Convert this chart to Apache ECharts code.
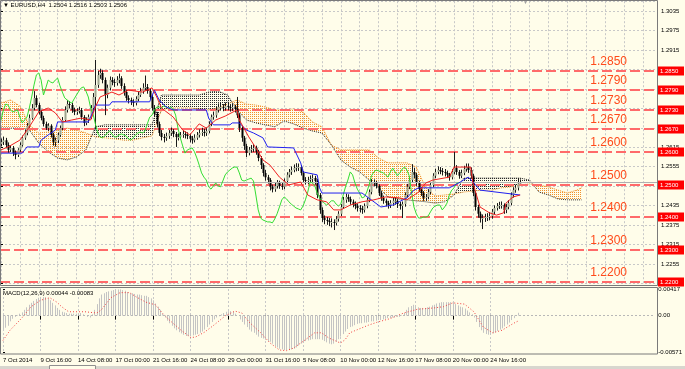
<!DOCTYPE html>
<html><head><meta charset="utf-8">
<script src="https://cdn.jsdelivr.net/npm/echarts@6/dist/echarts.min.js"></script>
<style>html,body{margin:0;padding:0;background:#FFFDEA;}#c{width:685px;height:369px;}</style>
</head><body><div id="c"></div>
<script>
// ---------- DATA ----------
const labelBars = [0,16,32,48,64,80,96,112,128,144,160,176,192,208];
const timeLabels = ['7 Oct 2014','9 Oct 16:00','14 Oct 08:00','17 Oct 00:00','21 Oct 16:00','24 Oct 08:00','29 Oct 00:00','31 Oct 16:00','5 Nov 08:00','10 Nov 00:00','12 Nov 16:00','17 Nov 08:00','20 Nov 00:00','24 Nov 16:00'];

const opens = [1.2625,1.2631,1.2637,1.2622,1.2607,1.2613,1.2597,1.2591,1.2607,1.2622,
1.2644,1.2659,1.2681,1.2705,1.2736,1.2767,1.2745,1.2724,1.2705,1.2687,
1.2674,1.2681,1.2653,1.2631,1.2637,1.2653,1.2674,1.2699,1.2730,1.2748,
1.2745,1.2730,1.2724,1.2727,1.2730,1.2708,1.2690,1.2699,1.2708,1.2736,
1.2770,1.2807,1.2838,1.2844,1.2822,1.2776,1.2798,1.2822,1.2816,1.2813,
1.2822,1.2828,1.2804,1.2785,1.2767,1.2761,1.2755,1.2751,1.2764,1.2776,
1.2788,1.2798,1.2801,1.2788,1.2770,1.2736,1.2718,1.2687,1.2659,1.2647,
1.2644,1.2650,1.2659,1.2665,1.2656,1.2647,1.2647,1.2653,1.2656,1.2653,
1.2650,1.2641,1.2637,1.2644,1.2653,1.2659,1.2662,1.2659,1.2665,1.2687,
1.2708,1.2714,1.2730,1.2739,1.2739,1.2736,1.2742,1.2739,1.2736,1.2739,
1.2733,1.2714,1.2674,1.2644,1.2619,1.2597,1.2607,1.2610,1.2613,1.2601,
1.2582,1.2560,1.2536,1.2523,1.2514,1.2493,1.2486,1.2496,1.2505,1.2496,
1.2493,1.2511,1.2530,1.2539,1.2545,1.2551,1.2554,1.2554,1.2536,1.2514,
1.2511,1.2514,1.2517,1.2520,1.2511,1.2468,1.2422,1.2397,1.2391,1.2388,
1.2385,1.2385,1.2382,1.2394,1.2410,1.2431,1.2453,1.2462,1.2456,1.2447,
1.2440,1.2434,1.2428,1.2425,1.2422,1.2434,1.2453,1.2477,1.2508,1.2505,
1.2496,1.2474,1.2459,1.2450,1.2443,1.2437,1.2443,1.2450,1.2450,1.2440,
1.2434,1.2440,1.2468,1.2493,1.2514,1.2539,1.2530,1.2505,1.2486,1.2474,
1.2459,1.2462,1.2477,1.2499,1.2527,1.2539,1.2545,1.2542,1.2539,1.2536,
1.2530,1.2523,1.2539,1.2551,1.2539,1.2527,1.2536,1.2548,1.2554,1.2545,
1.2527,1.2474,1.2431,1.2410,1.2397,1.2397,1.2400,1.2400,1.2403,1.2416,
1.2428,1.2434,1.2437,1.2437,1.2422,1.2431,1.2443,1.2468,1.2483,1.2490,
1.2504];
const highs = [1.2642,1.2648,1.2644,1.2630,1.2621,1.2619,1.2605,1.2612,1.2630,1.2651,
1.2668,1.2690,1.2716,1.2748,1.2788,1.2775,1.2752,1.2731,1.2712,1.2694,
1.2689,1.2686,1.2660,1.2645,1.2660,1.2682,1.2708,1.2741,1.2760,1.2757,
1.2752,1.2737,1.2735,1.2740,1.2736,1.2714,1.2707,1.2716,1.2745,1.2782,
1.2884,1.2850,1.2857,1.2852,1.2830,1.2808,1.2833,1.2831,1.2826,1.2834,
1.2842,1.2834,1.2812,1.2792,1.2775,1.2768,1.2763,1.2772,1.2785,1.2798,
1.2812,1.2836,1.2810,1.2795,1.2776,1.2745,1.2724,1.2694,1.2668,1.2656,
1.2660,1.2668,1.2676,1.2671,1.2662,1.2658,1.2662,1.2667,1.2664,1.2661,
1.2657,1.2650,1.2655,1.2662,1.2670,1.2675,1.2672,1.2676,1.2695,1.2716,
1.2725,1.2740,1.2750,1.2752,1.2748,1.2753,1.2755,1.2748,1.2750,1.2746,
1.2770,1.2720,1.2680,1.2650,1.2626,1.2616,1.2622,1.2625,1.2620,1.2607,
1.2588,1.2566,1.2545,1.2530,1.2520,1.2500,1.2506,1.2514,1.2512,1.2505,
1.2519,1.2538,1.2548,1.2556,1.2562,1.2566,1.2565,1.2560,1.2542,1.2523,
1.2524,1.2528,1.2531,1.2527,1.2517,1.2474,1.2430,1.2405,1.2400,1.2397,
1.2396,1.2393,1.2403,1.2418,1.2440,1.2462,1.2472,1.2470,1.2463,1.2454,
1.2448,1.2442,1.2437,1.2434,1.2442,1.2460,1.2485,1.2517,1.2516,1.2511,
1.2501,1.2480,1.2466,1.2457,1.2450,1.2452,1.2460,1.2461,1.2456,1.2447,
1.2448,1.2476,1.2502,1.2524,1.2563,1.2552,1.2536,1.2512,1.2492,1.2480,
1.2471,1.2486,1.2508,1.2535,1.2549,1.2556,1.2554,1.2551,1.2548,1.2543,
1.2536,1.2548,1.2601,1.2560,1.2545,1.2546,1.2558,1.2565,1.2565,1.2553,
1.2533,1.2480,1.2438,1.2417,1.2408,1.2410,1.2412,1.2415,1.2425,1.2436,
1.2443,1.2447,1.2448,1.2442,1.2440,1.2452,1.2476,1.2492,1.2500,1.2520,
1.2516];
const lows = [1.2618,1.2622,1.2612,1.2598,1.2600,1.2588,1.2578,1.2585,1.2601,1.2617,
1.2638,1.2652,1.2675,1.2700,1.2729,1.2738,1.2716,1.2698,1.2679,1.2668,
1.2665,1.2645,1.2620,1.2617,1.2628,1.2647,1.2668,1.2693,1.2722,1.2735,
1.2721,1.2714,1.2715,1.2719,1.2700,1.2680,1.2683,1.2690,1.2702,1.2725,
1.2670,1.2798,1.2826,1.2812,1.2714,1.2766,1.2790,1.2806,1.2801,1.2805,
1.2812,1.2795,1.2774,1.2758,1.2750,1.2745,1.2740,1.2744,1.2757,1.2770,
1.2780,1.2790,1.2780,1.2762,1.2728,1.2708,1.2676,1.2650,1.2636,1.2630,
1.2635,1.2641,1.2650,1.2646,1.2616,1.2636,1.2640,1.2644,1.2642,1.2640,
1.2630,1.2626,1.2630,1.2638,1.2645,1.2650,1.2648,1.2650,1.2658,1.2680,
1.2700,1.2706,1.2722,1.2728,1.2726,1.2728,1.2729,1.2725,1.2727,1.2722,
1.2705,1.2662,1.2632,1.2607,1.2585,1.2590,1.2598,1.2600,1.2592,1.2572,
1.2548,1.2525,1.2512,1.2503,1.2482,1.2476,1.2478,1.2488,1.2487,1.2484,
1.2486,1.2503,1.2522,1.2530,1.2538,1.2541,1.2542,1.2528,1.2505,1.2500,
1.2502,1.2505,1.2508,1.2500,1.2458,1.2410,1.2385,1.2378,1.2376,1.2372,
1.2368,1.2360,1.2374,1.2386,1.2403,1.2425,1.2444,1.2447,1.2438,1.2430,
1.2424,1.2417,1.2414,1.2410,1.2414,1.2427,1.2446,1.2470,1.2495,1.2488,
1.2465,1.2450,1.2441,1.2433,1.2426,1.2428,1.2435,1.2438,1.2428,1.2423,
1.2397,1.2432,1.2460,1.2486,1.2507,1.2520,1.2496,1.2477,1.2465,1.2450,
1.2450,1.2455,1.2470,1.2492,1.2520,1.2532,1.2532,1.2528,1.2525,1.2520,
1.2512,1.2516,1.2532,1.2530,1.2518,1.2520,1.2529,1.2540,1.2536,1.2518,
1.2464,1.2420,1.2398,1.2383,1.2363,1.2385,1.2388,1.2390,1.2395,1.2408,
1.2420,1.2425,1.2426,1.2410,1.2412,1.2424,1.2436,1.2460,1.2475,1.2482,
1.2503];
const closes = [1.2631,1.2637,1.2622,1.2607,1.2613,1.2597,1.2591,1.2607,1.2622,1.2644,
1.2659,1.2681,1.2705,1.2736,1.2767,1.2745,1.2724,1.2705,1.2687,1.2674,
1.2681,1.2653,1.2631,1.2637,1.2653,1.2674,1.2699,1.2730,1.2748,1.2745,
1.2730,1.2724,1.2727,1.2730,1.2708,1.2690,1.2699,1.2708,1.2736,1.2770,
1.2807,1.2838,1.2844,1.2822,1.2776,1.2798,1.2822,1.2816,1.2813,1.2822,
1.2828,1.2804,1.2785,1.2767,1.2761,1.2755,1.2751,1.2764,1.2776,1.2788,
1.2798,1.2801,1.2788,1.2770,1.2736,1.2718,1.2687,1.2659,1.2647,1.2644,
1.2650,1.2659,1.2665,1.2656,1.2647,1.2647,1.2653,1.2656,1.2653,1.2650,
1.2641,1.2637,1.2644,1.2653,1.2659,1.2662,1.2659,1.2665,1.2687,1.2708,
1.2714,1.2730,1.2739,1.2739,1.2736,1.2742,1.2739,1.2736,1.2739,1.2733,
1.2714,1.2674,1.2644,1.2619,1.2597,1.2607,1.2610,1.2613,1.2601,1.2582,
1.2560,1.2536,1.2523,1.2514,1.2493,1.2486,1.2496,1.2505,1.2496,1.2493,
1.2511,1.2530,1.2539,1.2545,1.2551,1.2554,1.2554,1.2536,1.2514,1.2511,
1.2514,1.2517,1.2520,1.2511,1.2468,1.2422,1.2397,1.2391,1.2388,1.2385,
1.2385,1.2382,1.2394,1.2410,1.2431,1.2453,1.2462,1.2456,1.2447,1.2440,
1.2434,1.2428,1.2425,1.2422,1.2434,1.2453,1.2477,1.2508,1.2505,1.2496,
1.2474,1.2459,1.2450,1.2443,1.2437,1.2443,1.2450,1.2450,1.2440,1.2434,
1.2440,1.2468,1.2493,1.2514,1.2539,1.2530,1.2505,1.2486,1.2474,1.2459,
1.2462,1.2477,1.2499,1.2527,1.2539,1.2545,1.2542,1.2539,1.2536,1.2530,
1.2523,1.2539,1.2551,1.2539,1.2527,1.2536,1.2548,1.2554,1.2545,1.2527,
1.2474,1.2431,1.2410,1.2397,1.2397,1.2400,1.2400,1.2403,1.2416,1.2428,
1.2434,1.2437,1.2437,1.2422,1.2431,1.2443,1.2468,1.2483,1.2490,1.2504,
1.2506];

const tenkan = [[0,1.2607],[3,1.2616],[8,1.2637],[12,1.2678],[16,1.2724],[20,1.2736],[23,1.2721],[26,1.2693],[30,1.2699],[34,1.2705],[38,1.2699],[40,1.2739],[42,1.2770],[47,1.2785],[50,1.2776],[54,1.2791],[60,1.2785],[64,1.2798],[66,1.2770],[68,1.2736],[73,1.2708],[77,1.2668],[80,1.2653],[84,1.2687],[87,1.2674],[91,1.2699],[95,1.2711],[100,1.2730],[101,1.2699],[105,1.2647],[108,1.2613],[111,1.2576],[114,1.2560],[118,1.2523],[122,1.2499],[127,1.2508],[130,1.2468],[134,1.2453],[138,1.2447],[141,1.2422],[144,1.2422],[148,1.2437],[153,1.2447],[158,1.2453],[163,1.2462],[169,1.2459],[172,1.2453],[177,1.2477],[180,1.2505],[183,1.2514],[190,1.2523],[192,1.2554],[199,1.2554],[200,1.2505],[203,1.2431],[207,1.2413],[210,1.2406],[213,1.2413],[214,1.2443],[217,1.2462],[220,1.2468]];
const kijun = [[0,1.2597],[9,1.2597],[11,1.2616],[16,1.2616],[17,1.2637],[20,1.2653],[23,1.2668],[24,1.2693],[37,1.2693],[39,1.2724],[40,1.2745],[46,1.2745],[47,1.2755],[63,1.2755],[65,1.2791],[67,1.2761],[70,1.2739],[73,1.2730],[87,1.2730],[88,1.2705],[90,1.2684],[97,1.2684],[98,1.2690],[101,1.2690],[104,1.2668],[107,1.2659],[111,1.2644],[113,1.2616],[124,1.2613],[127,1.2567],[128,1.2539],[134,1.2530],[135,1.2490],[136,1.2474],[153,1.2474],[161,1.2431],[166,1.2437],[172,1.2459],[175,1.2483],[177,1.2490],[190,1.2490],[194,1.2505],[198,1.2523],[200,1.2508],[203,1.2483],[220,1.2468]];
const chikouShift = 26;

const cloudBars = [0,4,8,12,16,20,24,28,32,36,40,44,48,52,56,60,64,68,72,76,80,84,88,92,96,100,104,108,112,116,120,124,128,132,136,140,144,148,152,156,160,164,168,172,176,180,184,188,192,196,200,204,208,212,216,220,224,228,232,236,240,244,246];
const spanA = [1.2751,1.2761,1.2742,1.2684,1.2659,1.2662,1.2668,1.2674,1.2668,1.2659,
1.2647,1.2644,1.2641,1.2637,1.2637,1.2644,1.2650,1.2730,1.2736,1.2736,
1.2736,1.2733,1.2730,1.2736,1.2748,1.2761,1.2748,1.2745,1.2739,1.2730,
1.2730,1.2733,1.2724,1.2693,1.2678,1.2622,1.2607,1.2607,1.2607,1.2607,
1.2582,1.2567,1.2567,1.2567,1.2554,1.2490,1.2465,1.2468,1.2471,1.2477,
1.2480,1.2483,1.2483,1.2490,1.2493,1.2499,1.2502,1.2499,1.2493,1.2483,
1.2474,1.2483,1.2490];
const spanB = [1.2674,1.2674,1.2674,1.2668,1.2628,1.2601,1.2582,1.2576,1.2585,1.2607,
1.2678,1.2684,1.2684,1.2684,1.2684,1.2684,1.2684,1.2776,1.2776,1.2776,
1.2776,1.2776,1.2785,1.2788,1.2776,1.2730,1.2699,1.2690,1.2684,1.2678,
1.2696,1.2687,1.2674,1.2665,1.2659,1.2622,1.2576,1.2554,1.2539,1.2514,
1.2490,1.2462,1.2456,1.2453,1.2450,1.2447,1.2443,1.2447,1.2468,1.2520,
1.2520,1.2520,1.2520,1.2520,1.2520,1.2520,1.2514,1.2477,1.2468,1.2456,
1.2453,1.2453,1.2453];

const levels = [1.2850,1.2790,1.2730,1.2670,1.2600,1.2500,1.2400,1.2300,1.2200];
const bidPrice = 1.2506;

const macdMain = [-0.0021,-0.0019,-0.0016,-0.0009,-0.0005,-0.0002,0.0001,0.0003,0.0005,0.0009,
0.0013,0.0017,0.0020,0.0023,0.0026,0.0028,0.0029,0.0029,0.0029,0.0027,
0.0024,0.0020,0.0016,0.0012,0.0009,0.0006,0.0005,0.0004,0.0003,0.0003,
0.0003,0.0003,0.0004,0.0004,0.0002,0.0000,-0.0002,-0.0003,0.0002,0.0009,
0.0018,0.0027,0.0033,0.0035,0.0037,0.0038,0.0039,0.0040,0.0040,0.0041,
0.0041,0.0040,0.0039,0.0037,0.0035,0.0035,0.0034,0.0033,0.0033,0.0032,
0.0031,0.0031,0.0029,0.0027,0.0024,0.0019,0.0014,0.0009,0.0003,-0.0003,
-0.0008,-0.0012,-0.0016,-0.0020,-0.0023,-0.0026,-0.0028,-0.0030,-0.0032,-0.0032,
-0.0032,-0.0031,-0.0030,-0.0029,-0.0027,-0.0025,-0.0022,-0.0018,-0.0014,-0.0010,
-0.0006,-0.0003,-0.0001,0.0002,0.0004,0.0006,0.0007,0.0007,0.0006,0.0003,
0.0000,-0.0006,-0.0010,-0.0014,-0.0018,-0.0022,-0.0025,-0.0027,-0.0030,-0.0033,
-0.0035,-0.0036,-0.0038,-0.0040,-0.0041,-0.0044,-0.0048,-0.0050,-0.0052,-0.0053,
-0.0054,-0.0054,-0.0054,-0.0053,-0.0052,-0.0050,-0.0047,-0.0044,-0.0042,-0.0040,
-0.0039,-0.0038,-0.0037,-0.0037,-0.0037,-0.0037,-0.0038,-0.0040,-0.0042,-0.0044,
-0.0045,-0.0044,-0.0041,-0.0037,-0.0033,-0.0029,-0.0025,-0.0021,-0.0018,-0.0017,
-0.0015,-0.0013,-0.0012,-0.0012,-0.0011,-0.0011,-0.0010,-0.0009,-0.0009,-0.0008,
-0.0007,-0.0007,-0.0006,-0.0005,-0.0004,-0.0004,-0.0003,-0.0003,-0.0002,-0.0002,
0.0001,0.0004,0.0009,0.0013,0.0015,0.0017,0.0016,0.0013,0.0012,0.0012,
0.0012,0.0013,0.0014,0.0016,0.0017,0.0019,0.0020,0.0021,0.0021,0.0021,
0.0021,0.0021,0.0020,0.0018,0.0016,0.0014,0.0013,0.0011,0.0008,0.0005,
0.0002,-0.0003,-0.0010,-0.0018,-0.0023,-0.0027,-0.0029,-0.0030,-0.0030,-0.0028,
-0.0026,-0.0024,-0.0022,-0.0020,-0.0017,-0.0014,-0.0011,-0.0007,-0.0004,0.0000,
0.00044];
const macdSignal = [[0,-0.0039],[3,-0.0023],[8,-0.0004],[12,0.0014],[16,0.0024],[20,0.0028],[23,0.0021],[25,0.0014],[28,0.0006],[31,0.0006],[35,0.0006],[40,0.0004],[42,0.0009],[46,0.0028],[50,0.0036],[54,0.0036],[57,0.0029],[61,0.0021],[65,0.0017],[68,0.0004],[71,-0.0007],[76,-0.0023],[80,-0.0034],[82,-0.0034],[86,-0.0026],[90,-0.0015],[95,0.0000],[99,0.0007],[102,0.0004],[105,-0.0010],[110,-0.0027],[114,-0.0043],[118,-0.0054],[121,-0.0055],[124,-0.0051],[129,-0.0038],[133,-0.0027],[136,-0.0027],[139,-0.0035],[144,-0.0043],[146,-0.0038],[148,-0.0027],[152,-0.0021],[156,-0.0015],[160,-0.0010],[165,-0.0005],[171,0.0004],[177,0.0010],[184,0.0012],[188,0.0014],[192,0.0020],[197,0.0018],[201,0.0006],[205,-0.0018],[209,-0.0027],[213,-0.0023],[218,-0.0012],[220,-0.00083]];
const macdAxisLabels = [-0.00571, 0, 0.00417];
const titleText = 'EURUSD,H4  1.2504 1.2516 1.2503 1.2506';
const macdText = 'MACD(12,26,9) 0.00044 -0.00083';

// ---------- STYLE HELPERS ----------
const FONT = 'Liberation Sans, Arial, sans-serif';
function dotPattern(color){
  const c = document.createElement('canvas'); c.width = 2; c.height = 2;
  const g = c.getContext('2d'); g.fillStyle = color; g.fillRect(0,0,1,1);
  return {image: c, repeat: 'repeat'};
}
const orangeFill = dotPattern('#F0902A');
const darkFill = dotPattern('#2A2A2A');

const candleData = opens.map((o,i)=>[i,o,highs[i],lows[i],closes[i]]);
const cloudData = cloudBars.map((b,i)=>[b,spanA[i],spanB[i]]);
const chikouData = closes.map((c,i)=>[i-chikouShift,c]);
const macdData = macdMain.map((v,i)=>[i,v]);
const levelData = levels.map(v=>[v]);

function renderCandle(params, api){
  const x = api.value(0), o = api.value(1), h = api.value(2), l = api.value(3), c = api.value(4);
  const pH = api.coord([x,h]), pL = api.coord([x,l]), pO = api.coord([x,o]), pC = api.coord([x,c]);
  const cx = Math.round(pH[0]) + 0.5;
  const top = Math.min(pO[1],pC[1]), bot = Math.max(pO[1],pC[1]);
  const up = c >= o;
  return {type:'group', children:[
    {type:'line', shape:{x1:cx,y1:pH[1],x2:cx,y2:pL[1]}, style:{stroke:'#1a1a1a',lineWidth:1}},
    {type:'rect', shape:{x:cx-1,y:top,width:2,height:Math.max(bot-top,1)}, style:{fill: up ? '#9EA58E' : '#000000'}}
  ]};
}
function renderCloud(params, api){
  const i = params.dataIndex;
  if (i >= cloudBars.length - 1) return null;
  const a0 = api.coord([cloudBars[i], spanA[i]]), b0 = api.coord([cloudBars[i], spanB[i]]);
  const a1 = api.coord([cloudBars[i+1], spanA[i+1]]), b1 = api.coord([cloudBars[i+1], spanB[i+1]]);
  const d0 = spanA[i]-spanB[i], d1 = spanA[i+1]-spanB[i+1];
  const f = d => d >= 0 ? orangeFill : darkFill;
  const ch = [];
  if (d0*d1 < 0){
    const t = d0/(d0-d1);
    const X = [a0[0]+t*(a1[0]-a0[0]), a0[1]+t*(a1[1]-a0[1])];
    ch.push({type:'polygon', shape:{points:[a0,X,b0]}, style:{fill:f(d0)}});
    ch.push({type:'polygon', shape:{points:[X,a1,b1]}, style:{fill:f(d1)}});
  } else {
    ch.push({type:'polygon', shape:{points:[a0,a1,b1,b0]}, style:{fill:f(d0!==0?d0:d1)}});
  }
  return {type:'group', children:ch};
}
function renderHist(params, api){
  const x = api.value(0), v = api.value(1);
  const p0 = api.coord([x,0]), p1 = api.coord([x,v]);
  const cx = Math.round(p0[0]) + 0.5;
  return {type:'line', shape:{x1:cx,y1:p0[1],x2:cx,y2:p1[1]}, style:{stroke:'#C4C4C4',lineWidth:1}};
}
// level lines: dashed line across the pane, big caption above it, red price box on the axis
function renderLevel(params, api){
  const v = api.value(0);
  const pL = api.coord([0, v]), pR = api.coord([278, v]);
  const y = Math.round(pL[1]);
  return {type:'group', children:[
    {type:'line', shape:{x1:0, y1:y, x2:pR[0], y2:y}, style:{stroke:'#FF6A6A', lineWidth:2, lineDash:[10,4]}},
    {type:'text', x:pR[0]-30, y:y-3, style:{text:v.toFixed(4), fill:'#FF4A1A', fontSize:12, fontFamily:FONT, align:'right', verticalAlign:'bottom'}},
    {type:'rect', shape:{x:pR[0]+1, y:y-4.5, width:26, height:9}, style:{fill:'#FF0000'}},
    {type:'text', x:pR[0]+3, y:y, style:{text:v.toFixed(4), fill:'#FFFFFF', fontSize:6, fontFamily:FONT, align:'left', verticalAlign:'middle'}}
  ]};
}

const gridSplit = {show:true, lineStyle:{color:'#C8C8C8', type:[2,2], width:1}};

const chart = echarts.init(document.getElementById('c'), null, {renderer:'canvas', width:685, height:369});
chart.setOption({
  animation:false,
  backgroundColor:'#FFFDEA',
  grid:[
    {left:1, right:28, top:1.2, height:282.4},
    {left:1, right:28, top:289, height:63}
  ],
  xAxis:[
    {type:'value', gridIndex:0, min:0, max:278, interval:8, axisLine:{show:false}, axisTick:{show:false}, axisLabel:{show:false}, splitLine:gridSplit},
    {type:'value', gridIndex:1, min:0, max:278, interval:8, axisLine:{show:false},
     axisTick:{show:true, length:4, customValues:labelBars, lineStyle:{color:'#000'}},
     axisLabel:{show:true, customValues:labelBars, formatter:v=>{const k=labelBars.indexOf(v);return k>=0?timeLabels[k]:'';}, align:'left', margin:5, fontSize:6, fontFamily:FONT, color:'#000'},
     splitLine:gridSplit}
  ],
  yAxis:[
    {type:'value', gridIndex:0, position:'right', min:1.2195, max:1.3065, interval:0.006,
     axisLine:{show:false}, axisTick:{show:true,length:2,lineStyle:{color:'#000'}},
     axisLabel:{margin:4, fontSize:6, fontFamily:FONT, color:'#000', showMaxLabel:false, hideOverlap:false,
       formatter:v=>(v>1.306||levels.some(l=>Math.abs(l-v)<0.001))?'':v.toFixed(4)},
     splitLine:gridSplit},
    {type:'value', gridIndex:1, position:'right', min:-0.00571, max:0.00417,
     axisLine:{show:false}, axisTick:{show:true,length:2,customValues:macdAxisLabels,lineStyle:{color:'#000'}},
     axisLabel:{margin:4, fontSize:6, fontFamily:FONT, color:'#000', customValues:macdAxisLabels, formatter:v=>v===0?'0.00':v.toFixed(5)},
     splitLine:{show:false}}
  ],
  series:[
    {type:'custom', name:'cloud', xAxisIndex:0, yAxisIndex:0, data:cloudData, renderItem:renderCloud, z:1, silent:true, clip:true},
    {type:'line', name:'spanA', xAxisIndex:0, yAxisIndex:0, data:cloudBars.map((b,i)=>[b,spanA[i]]), showSymbol:false, z:2,
     lineStyle:{color:'#F0902A', width:1, type:'dotted'}},
    {type:'line', name:'spanB', xAxisIndex:0, yAxisIndex:0, data:cloudBars.map((b,i)=>[b,spanB[i]]), showSymbol:false, z:2,
     lineStyle:{color:'#2A2A2A', width:1, type:'dotted'}},
    {type:'custom', name:'levels', xAxisIndex:0, yAxisIndex:0, data:levelData, renderItem:renderLevel, z:3, silent:true, clip:false},
    {type:'custom', name:'candles', xAxisIndex:0, yAxisIndex:0, data:candleData, renderItem:renderCandle, z:4, clip:true,
     markLine:{silent:true, symbol:['none','none'], animation:false, precision:4,
       lineStyle:{color:'#B0B0B0', width:1, type:'solid'}, label:{show:false},
       data:[{yAxis:bidPrice}]}},
    {type:'line', name:'chikou', xAxisIndex:0, yAxisIndex:0, data:chikouData, showSymbol:false, z:5,
     lineStyle:{color:'#33DD33', width:1}},
    {type:'line', name:'kijun', xAxisIndex:0, yAxisIndex:0, data:kijun, showSymbol:false, z:5,
     lineStyle:{color:'#2020F0', width:1}},
    {type:'line', name:'tenkan', xAxisIndex:0, yAxisIndex:0, data:tenkan, showSymbol:false, z:5,
     lineStyle:{color:'#F02020', width:1}},
    {type:'custom', name:'macd', xAxisIndex:1, yAxisIndex:1, data:macdData, renderItem:renderHist, z:2, clip:true,
     markLine:{silent:true, symbol:['none','none'], animation:false, precision:5, label:{show:false},
       lineStyle:{color:'#B8B8B8', width:1, type:[2,2]}, data:[{yAxis:0}]}},
    {type:'line', name:'signal', xAxisIndex:1, yAxisIndex:1, data:macdSignal, showSymbol:false, z:3,
     lineStyle:{color:'#F04040', width:1, type:[1,2]}}
  ],
  graphic:[
    {type:'rect', shape:{x:0.5,y:0.5,width:657,height:285}, style:{fill:null, stroke:'#7A7A7A', lineWidth:1}, z:100, silent:true},
    {type:'rect', shape:{x:0.5,y:287.5,width:657,height:66.5}, style:{fill:null, stroke:'#7A7A7A', lineWidth:1}, z:100, silent:true},
    {type:'text', x:3, y:2, style:{text:'\u25BC '+titleText, fill:'#000', fontSize:6, fontFamily:FONT}, z:100, silent:true},
    {type:'text', x:3, y:290, style:{text:macdText, fill:'#000', fontSize:6, fontFamily:FONT}, z:100, silent:true},
    {type:'text', x:523, y:0, style:{text:'\u25BC', fill:'#A0A0A0', fontSize:5, fontFamily:FONT}, z:100, silent:true},
    {type:'rect', shape:{x:0,y:366,width:685,height:3}, style:{fill:'#D8D6CE'}, z:100, silent:true},
    {type:'rect', shape:{x:49.5,y:365.5,width:46,height:4}, style:{fill:'#FFFDEA', stroke:'#909090'}, z:101, silent:true}
  ]
});
</script></body></html>
